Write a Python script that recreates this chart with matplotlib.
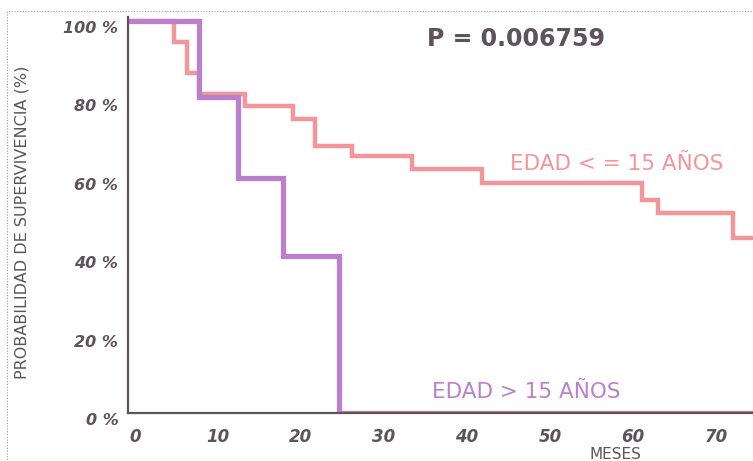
import matplotlib.pyplot as plt
from matplotlib.patches import Rectangle
from matplotlib.transforms import ScaledTranslation

# survival curves (months, % surviving)
months_young = [0, 5.3, 6.9, 8.3, 13.9, 19.6, 22.3, 26.7, 34.0, 42.4, 61.7, 63.6, 72.7, 76]
surv_young = [100, 94.6, 86.7, 81.4, 78.2, 74.9, 68.1, 65.6, 62.2, 58.7, 54.3, 51.0, 44.6, 44.6]

months_old = [0, 8.3, 13.0, 18.4, 25.2, 76]
surv_old = [100, 80.5, 60, 40, 0, 0]

xticks = [0, 10, 20, 30, 40, 50, 60, 70]
yticks = [0, 20, 40, 60, 80, 100]
ytick_labels = ['0 %', '20 %', '40 %', '60 %', '80 %', '100 %']

pink = '#f3969a'
purple = '#bb80cc'
dark = '#5d5358'

fig = plt.figure(figsize=(7.53, 4.61), dpi=100)
fig.patch.set_facecolor('white')

# dotted frame of the scanned page
fig.patches.append(Rectangle((7 / 753, -0.05), 1.0, 1 - 11 / 461 + 0.05,
                             transform=fig.transFigure, fill=False,
                             ls=(0, (1, 1.5)), lw=0.8, ec='#a0959a'))

ax = fig.add_axes([128 / 753, 48 / 461, 625 / 753, 396 / 461])
ax.step(months_young, surv_young, where='post', color=pink, lw=3.2,
        solid_joinstyle='miter')
ax.step(months_old, surv_old, where='post', color=purple, lw=3.8,
        solid_joinstyle='miter')

ax.set_xlim(-0.24, 75.06)
ax.set_ylim(0, 101)
for s in ['top', 'right']:
    ax.spines[s].set_visible(False)
for s in ['left', 'bottom']:
    ax.spines[s].set_color(dark)
    ax.spines[s].set_linewidth(1.6)

ax.set_xticks(xticks)
ax.set_xticklabels([str(v) for v in xticks])
ax.set_yticks(yticks)
ax.set_yticklabels(ytick_labels)
ax.tick_params(length=0, colors=dark)
ax.tick_params(axis='x', pad=11)
ax.tick_params(axis='y', pad=7)
for lab in ax.get_xticklabels():
    lab.set_fontsize(12)
    lab.set_fontweight('bold')
    lab.set_fontstyle('italic')
    lab.set_transform(lab.get_transform() + ScaledTranslation(5 / 100, 0, fig.dpi_scale_trans))
for lab in ax.get_yticklabels():
    lab.set_fontsize(11.5)
    lab.set_fontweight('bold')
    lab.set_fontstyle('italic')
    lab.set_transform(lab.get_transform() + ScaledTranslation(0, -6 / 100, fig.dpi_scale_trans))

fig.text(22 / 753, 1 - 222 / 461, 'PROBABILIDAD DE SUPERVIVENCIA (%)', rotation=90,
         ha='center', va='center', fontsize=11.5, color=dark)
fig.text(615 / 753, 1 - 454 / 461, 'MESES', ha='center', va='center',
         fontsize=11, color=dark)
fig.text(516 / 753, 1 - 39 / 461, 'P = 0.006759', ha='center', va='center',
         fontsize=17, fontweight='bold', color=dark)

ax.text(58.6, 63.5, 'EDAD < = 15 AÑOS', ha='center', va='center', fontsize=15.5, color=pink)
ax.text(47.8, 5.4, 'EDAD > 15 AÑOS', ha='center', va='center', fontsize=15.5, color=purple)

fig.savefig('out.png', dpi=100)
